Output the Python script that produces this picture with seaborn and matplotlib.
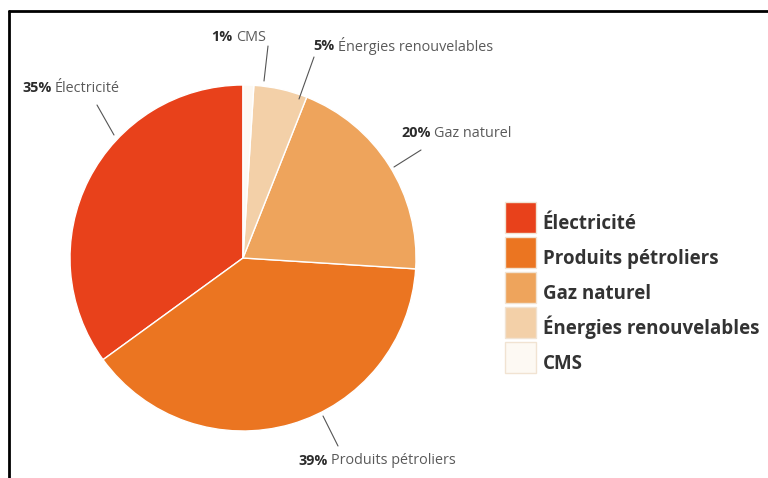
import matplotlib
matplotlib.use("Agg")
import matplotlib.pyplot as plt
from matplotlib.lines import Line2D
from matplotlib.transforms import Affine2D
import seaborn as sns

# Energy consumption shares (%)
categories = ["Électricité", "Produits pétroliers", "Gaz naturel",
              "Énergies renouvelables", "CMS"]
shares = [35, 39, 20, 5, 1]
slice_labels = ["Électricité", "Produits pétroliers", "Gaz naturel",
                "Énergies renouvelables", "CMS"]

colors = ["#e8411b", "#eb7521", "#eea45c", "#f3d0a8", "#fdf9f3"]

sns.set_theme(style="white")
plt.rcParams["font.family"] = ["Open Sans", "DejaVu Sans"]

W, H = 768, 478
fig = plt.figure(figsize=(W / 100, H / 100), dpi=100)
fig.patch.set_facecolor("white")

# pie axes: centre (243, 258) px, radius 173 px
cx, cy, r = 243, 258, 173
ax = fig.add_axes([(cx - r) / W, (H - cy - r) / H, 2 * r / W, 2 * r / H])
wedges, _ = ax.pie(shares, colors=sns.color_palette(colors), startangle=90,
                   counterclock=True, radius=1,
                   wedgeprops=dict(edgecolor="white", linewidth=1.0))
ax.set_xlim(-1, 1)
ax.set_ylim(-1, 1)
ax.axis("off")


def to_pie(px, py):
    """Convert a pixel position on the figure to pie units."""
    return ((px - cx) / r, (cy - py) / r)


# label text anchor, leader start and leader end (pixel positions)
label_layout = [
    ((22, 88), (97, 105), (114, 135)),
    ((298, 461), (338, 446), (323, 416)),
    ((401, 133), (421, 150), (394, 167)),
    ((313, 46), (314, 57), (299, 99)),
    ((211, 37), (268, 46), (264, 81)),
]

for share, name, (txt, p0, p1) in zip(shares, slice_labels, label_layout):
    a, b = to_pie(*p0), to_pie(*p1)
    ax.plot([a[0], b[0]], [a[1], b[1]], color="#555555", lw=0.8,
            clip_on=False)
    tx, ty = to_pie(*txt)
    t = ax.text(tx, ty, f"{share}%", ha="left", va="center",
                fontsize=10.4, fontweight="bold", color="#2b2b2b",
                clip_on=False)
    ax.annotate(name, xy=(1, 0.5), xycoords=t, xytext=(2.5, 0),
                textcoords="offset points", ha="left", va="center",
                fontsize=10.4, color="#5a5a5a")

leg = fig.legend(wedges, categories, loc="upper left",
                 bbox_to_anchor=(505 / W, 1 - 202 / H),
                 frameon=False, borderpad=0, borderaxespad=0,
                 handlelength=1.65, handleheight=2.17, labelspacing=0.21,
                 handletextpad=0.37,
                 prop=dict(family=["Open Sans", "DejaVu Sans"],
                           weight="bold", size=13.5))
for txt in leg.get_texts():
    txt.set_color("#333333")
    # sit the legend labels a little lower beside their swatches
    txt.set_transform(txt.get_transform() + Affine2D().translate(0, -6))
for h in leg.legend_handles:
    h.set_edgecolor("#f1e3d2")

# frame lines along the top and left edges
fig.add_artist(Line2D([9 / W, 9 / W], [0, 1 - 11 / H], transform=fig.transFigure,
                      color="black", lw=2))
fig.add_artist(Line2D([9 / W, 1], [1 - 11 / H, 1 - 11 / H],
                      transform=fig.transFigure, color="black", lw=2))

fig.savefig("out.png", dpi=100)
